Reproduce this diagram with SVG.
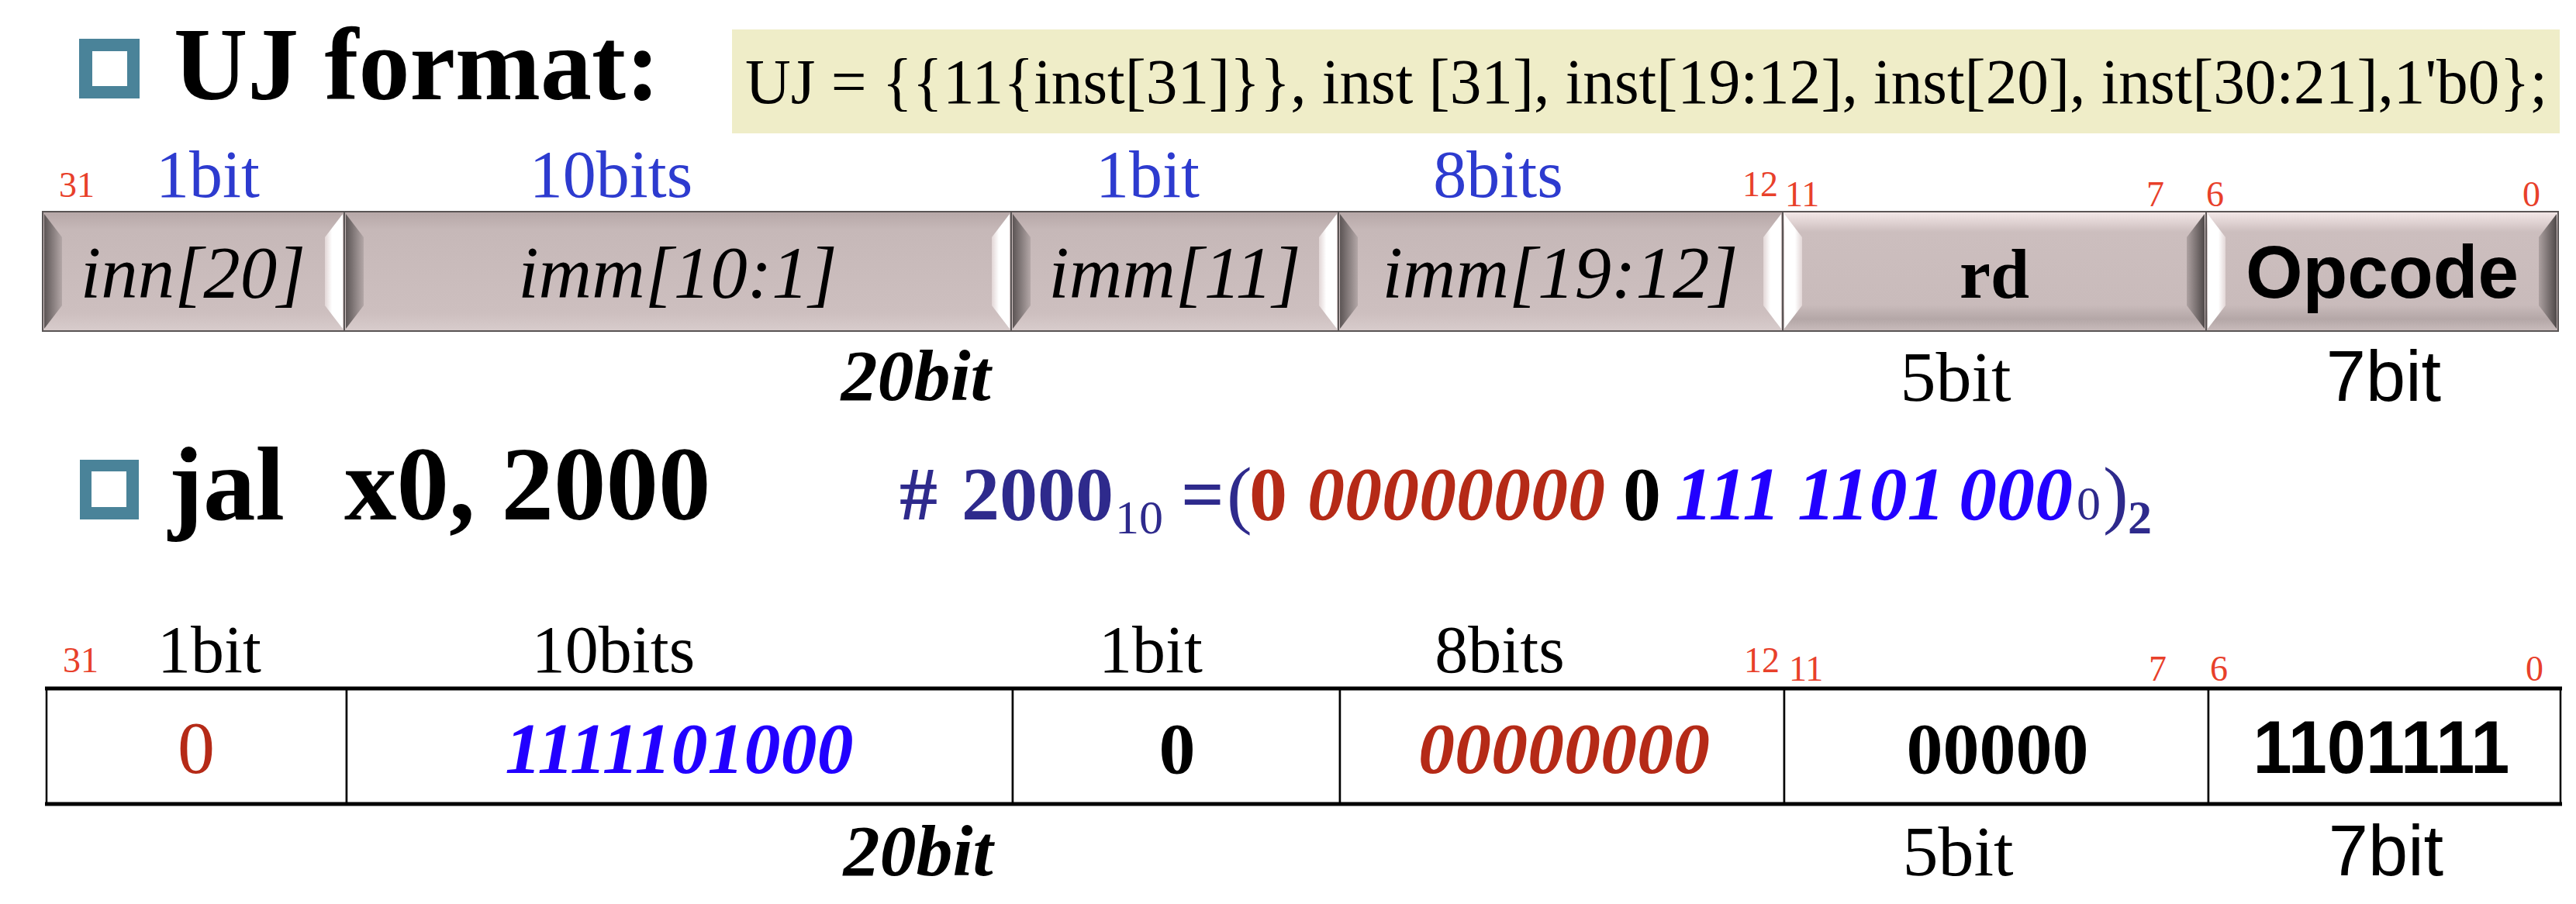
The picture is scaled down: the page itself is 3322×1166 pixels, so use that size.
<svg xmlns="http://www.w3.org/2000/svg" width="3322" height="1166" viewBox="0 0 3322 1166">
<defs>
<linearGradient id="pressFill" x1="0" y1="0" x2="0" y2="1">
<stop offset="0" stop-color="#B6A7A7"/><stop offset="0.15" stop-color="#C6B8B8"/><stop offset="0.85" stop-color="#CDBFBF"/><stop offset="1" stop-color="#D8CCCC"/>
</linearGradient>
<linearGradient id="raiseFill" x1="0" y1="0" x2="0" y2="1">
<stop offset="0" stop-color="#F4E8E8"/><stop offset="0.17" stop-color="#CCBEBE"/><stop offset="0.78" stop-color="#C9BBBB"/><stop offset="0.9" stop-color="#B4A7A7"/><stop offset="1" stop-color="#C9BCBC"/>
</linearGradient>
<linearGradient id="darkL" x1="0" y1="0" x2="1" y2="0">
<stop offset="0" stop-color="#5C5555"/><stop offset="1" stop-color="#B3A7A7"/>
</linearGradient>
<linearGradient id="darkR" x1="1" y1="0" x2="0" y2="0">
<stop offset="0" stop-color="#4F4949"/><stop offset="1" stop-color="#ADA1A1"/>
</linearGradient>
<linearGradient id="lightL" x1="0" y1="0" x2="1" y2="0">
<stop offset="0" stop-color="#FFFFFF"/><stop offset="0.6" stop-color="#FFFFFF"/><stop offset="1" stop-color="#E2D6D6"/>
</linearGradient>
<linearGradient id="lightR" x1="1" y1="0" x2="0" y2="0">
<stop offset="0" stop-color="#FFFFFF"/><stop offset="0.6" stop-color="#FFFFFF"/><stop offset="1" stop-color="#E2D6D6"/>
</linearGradient>
</defs>
<style>
.serif{font-family:"Liberation Serif","Times New Roman",serif}
.sans{font-family:"Liberation Sans",Arial,sans-serif}
.b{font-weight:bold}
.i{font-style:italic}
.mid{text-anchor:middle}
.bitno{font-family:"Liberation Serif","Times New Roman",serif;font-size:46px;fill:#E8402A}
.lblBlue{font-family:"Liberation Serif","Times New Roman",serif;font-size:86px;fill:#2D3BCF;text-anchor:middle}
.lblBlack{font-family:"Liberation Serif","Times New Roman",serif;font-size:86px;fill:#000;text-anchor:middle}
.boxtxt{font-family:"Liberation Serif","Times New Roman",serif;font-size:95px;font-style:italic;text-anchor:middle}
.edge{fill:none;stroke:#5A5555;stroke-width:2}
.cell{fill:#FFFFFF;stroke:#000;stroke-width:2.5}
.bullet{fill:#4A8399}
.navy{fill:#2E2A8C}
.brick{fill:#B52A17}
.vblue{fill:#2200FF}
</style>
<rect width="3322" height="1166" fill="#FFFFFF"/>

<g id="title1">
<rect class="bullet" x="102" y="50" width="78" height="77"/>
<rect x="119" y="66" width="45" height="45" fill="#FFFFFF"/>
<text class="serif b" x="224" y="128" font-size="134" textLength="627" lengthAdjust="spacingAndGlyphs">UJ format:</text>
</g>

<g id="formula">
<rect x="944" y="38" width="2357" height="134" fill="#EFEDC8"/>
<text class="serif" x="961" y="133" font-size="83" textLength="2324" lengthAdjust="spacingAndGlyphs">UJ = {{11{inst[31]}}, inst [31], inst[19:12], inst[20], inst[30:21],1'b0};</text>
</g>

<g id="row1-labels">
<text class="bitno" x="76" y="254">31</text>
<text class="lblBlue" x="268" y="254">1bit</text>
<text class="lblBlue" x="788" y="254">10bits</text>
<text class="lblBlue" x="1480" y="254">1bit</text>
<text class="lblBlue" x="1932" y="254">8bits</text>
<text class="bitno" x="2247" y="253">12</text>
<text class="bitno" x="2302" y="266">11</text>
<text class="bitno" x="2768" y="266">7</text>
<text class="bitno" x="2845" y="266">6</text>
<text class="bitno" x="3253" y="266">0</text>
</g>

<g id="f-inn20">
<rect x="55" y="273" width="389" height="154" fill="url(#pressFill)"/>
<polygon points="57,276 80,306 80,394 57,424" fill="url(#darkL)"/>
<polygon points="442,276 419,306 419,394 442,424" fill="url(#lightR)"/>
<rect class="edge" x="55" y="273" width="389" height="154"/>
<text class="boxtxt" x="249" y="384">inn[20]</text>
</g>
<g id="f-imm10-1">
<rect x="444" y="273" width="860" height="154" fill="url(#pressFill)"/>
<polygon points="446,276 469,306 469,394 446,424" fill="url(#darkL)"/>
<polygon points="1302,276 1279,306 1279,394 1302,424" fill="url(#lightR)"/>
<rect class="edge" x="444" y="273" width="860" height="154"/>
<text class="boxtxt" x="874" y="384">imm[10:1]</text>
</g>
<g id="f-imm11">
<rect x="1304" y="273" width="422" height="154" fill="url(#pressFill)"/>
<polygon points="1306,276 1329,306 1329,394 1306,424" fill="url(#darkL)"/>
<polygon points="1724,276 1701,306 1701,394 1724,424" fill="url(#lightR)"/>
<rect class="edge" x="1304" y="273" width="422" height="154"/>
<text class="boxtxt" x="1515" y="384">imm[11]</text>
</g>
<g id="f-imm19-12">
<rect x="1726" y="273" width="573" height="154" fill="url(#pressFill)"/>
<polygon points="1728,276 1751,306 1751,394 1728,424" fill="url(#darkL)"/>
<polygon points="2297,276 2274,306 2274,394 2297,424" fill="url(#lightR)"/>
<rect class="edge" x="1726" y="273" width="573" height="154"/>
<text class="boxtxt" x="2012" y="384">imm[19:12]</text>
</g>
<g id="f-rd">
<rect x="2299" y="273" width="546" height="154" fill="url(#raiseFill)"/>
<polygon points="2301,276 2324,306 2324,394 2301,424" fill="url(#lightL)"/>
<polygon points="2843,276 2820,306 2820,394 2843,424" fill="url(#darkR)"/>
<rect class="edge" x="2299" y="273" width="546" height="154"/>
<text class="serif b mid" x="2572" y="384" font-size="90">rd</text>
</g>
<g id="f-opcode">
<rect x="2845" y="273" width="454" height="154" fill="url(#raiseFill)"/>
<polygon points="2847,276 2870,306 2870,394 2847,424" fill="url(#lightL)"/>
<polygon points="3297,276 3274,306 3274,394 3297,424" fill="url(#darkR)"/>
<rect class="edge" x="2845" y="273" width="454" height="154"/>
<text class="sans b mid" x="3072" y="384" font-size="96" textLength="352" lengthAdjust="spacingAndGlyphs">Opcode</text>
</g>

<g id="row1-sizes">
<text class="serif b i mid" x="1181" y="516" font-size="94">20bit</text>
<text class="serif mid" x="2522" y="517" font-size="92">5bit</text>
<text class="sans mid" x="3074" y="517" font-size="92">7bit</text>
</g>

<g id="title2">
<rect class="bullet" x="103" y="593" width="76" height="77"/>
<rect x="118" y="608" width="45" height="46" fill="#FFFFFF"/>
<text class="serif b" x="217" y="670" font-size="135">jal</text>
<text class="serif b" x="444" y="670" font-size="135">x0, 2000</text>
</g>

<g id="binary">
<text class="serif b navy" x="1160" y="670" font-size="98">#</text>
<text class="serif b navy" x="1240" y="670" font-size="98">2000</text>
<text class="serif navy" x="1438" y="688" font-size="62">10</text>
<text class="serif b navy" x="1523" y="670" font-size="98">=</text>
<text class="serif navy" x="1582" y="670" font-size="98">(</text>
<text class="serif b brick" x="1611" y="670" font-size="98">0</text>
<text class="serif b i brick" x="1686" y="670" font-size="98" textLength="384" lengthAdjust="spacingAndGlyphs">00000000</text>
<text class="serif b" x="2093" y="670" font-size="98">0</text>
<text class="serif b i vblue" x="2160" y="670" font-size="98">111</text>
<text class="serif b i vblue" x="2318" y="670" font-size="98">1101</text>
<text class="serif b i vblue" x="2526" y="670" font-size="98">000</text>
<text class="serif navy" x="2678" y="670" font-size="62">0</text>
<text class="serif navy" x="2712" y="670" font-size="98">)</text>
<text class="serif b navy" x="2744" y="688" font-size="62">2</text>
</g>

<g id="row2-labels">
<text class="bitno" x="81" y="867">31</text>
<text class="lblBlack" x="270" y="867">1bit</text>
<text class="lblBlack" x="791" y="867">10bits</text>
<text class="lblBlack" x="1484" y="867">1bit</text>
<text class="lblBlack" x="1934" y="867">8bits</text>
<text class="bitno" x="2249" y="867">12</text>
<text class="bitno" x="2307" y="878">11</text>
<text class="bitno" x="2771" y="878">7</text>
<text class="bitno" x="2850" y="878">6</text>
<text class="bitno" x="3257" y="878">0</text>
</g>

<g id="v-bit20">
<rect class="cell" x="60" y="888" width="387" height="149"/>
<text class="serif mid brick" x="253" y="997" font-size="96">0</text>
</g>
<g id="v-bits10-1">
<rect class="cell" x="447" y="888" width="859" height="149"/>
<text class="serif b i mid vblue" x="876" y="997" font-size="94">1111101000</text>
</g>
<g id="v-bit11">
<rect class="cell" x="1306" y="888" width="422" height="149"/>
<text class="serif b mid" x="1518" y="997" font-size="94">0</text>
</g>
<g id="v-bits19-12">
<rect class="cell" x="1728" y="888" width="573" height="149"/>
<text class="serif b i mid brick" x="2017" y="997" font-size="94">00000000</text>
</g>
<g id="v-rd">
<rect class="cell" x="2301" y="888" width="547" height="149"/>
<text class="serif b mid" x="2576" y="997" font-size="94">00000</text>
</g>
<g id="v-opcode">
<rect class="cell" x="2848" y="888" width="454" height="149"/>
<text class="sans b mid" x="3071" y="997" font-size="96" textLength="331" lengthAdjust="spacingAndGlyphs">1101111</text>
</g>
<g id="row2-frame">
<line x1="58" y1="888" x2="3304" y2="888" stroke="#000" stroke-width="5"/>
<line x1="58" y1="1037" x2="3304" y2="1037" stroke="#000" stroke-width="5"/>
</g>

<g id="row2-sizes">
<text class="serif b i mid" x="1184" y="1129" font-size="94">20bit</text>
<text class="serif mid" x="2525" y="1129" font-size="92">5bit</text>
<text class="sans mid" x="3077" y="1129" font-size="92">7bit</text>
</g>
<g id="connectors"/>
</svg>
